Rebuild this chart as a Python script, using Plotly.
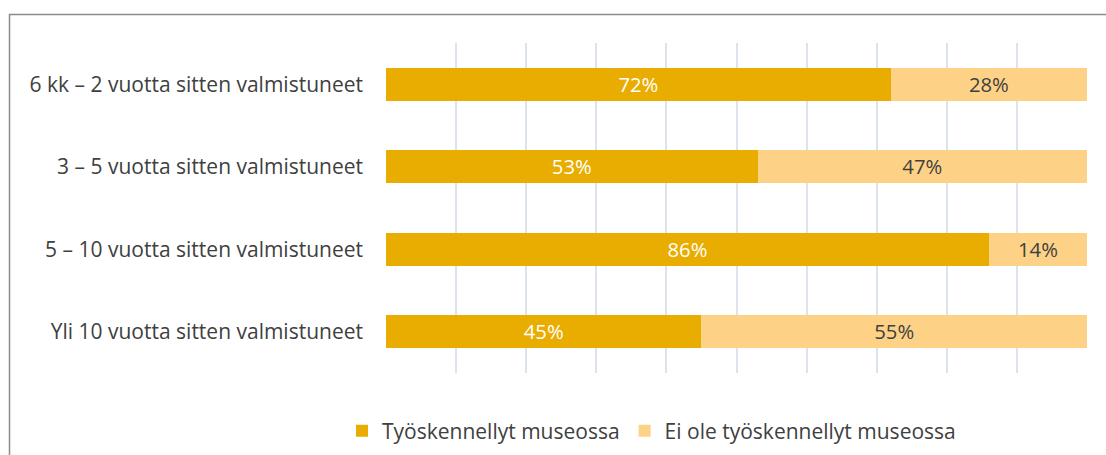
import plotly.graph_objects as go

categories = ["6 kk – 2 vuotta sitten valmistuneet",
              "3 – 5 vuotta sitten valmistuneet",
              "5 – 10 vuotta sitten valmistuneet",
              "Yli 10 vuotta sitten valmistuneet"]
worked = [72, 53, 86, 45]
not_worked = [28, 47, 14, 55]
series_names = ["Työskennellyt museossa", "Ei ole työskennellyt museossa"]

FONT = "Open Sans"
FS = 21
W, H = 1106, 455
L, R, T, B = 386, 19, 43, 82

fig = go.Figure()
fig.add_trace(go.Bar(
    y=categories, x=worked, orientation="h", name=series_names[0],
    marker=dict(color="#E9AC00", line=dict(width=0)),
    text=[f"{v}%" for v in worked], textposition="inside",
    insidetextanchor="middle",
    textfont=dict(color="white", size=FS, family=FONT),
))
fig.add_trace(go.Bar(
    y=categories, x=not_worked, orientation="h", name=series_names[1],
    marker=dict(color="#FDD286", line=dict(width=0)),
    text=[f"{v}%" for v in not_worked], textposition="inside",
    insidetextanchor="middle",
    textfont=dict(color="#404040", size=FS, family=FONT),
))

pw = W - L - R
ph = H - T - B
def px(x):
    return (x - L) / pw
def py(y):
    return (H - B - y) / ph

fig.add_shape(type="rect", xref="paper", yref="paper",
              x0=px(9.5), x1=px(1130), y0=py(480), y1=py(14.5),
              line=dict(color="#8C8C8C", width=1.5), fillcolor="rgba(0,0,0,0)",
              layer="below")

fig.update_layout(
    width=W, height=H,
    margin=dict(l=L, r=R, t=T, b=B, autoexpand=False),
    barmode="stack", bargap=0.6,
    plot_bgcolor="white", paper_bgcolor="white",
    font=dict(family=FONT, size=FS, color="#404040"),
    showlegend=True,
    legend=dict(orientation="h", x=px(342), xanchor="left",
                y=py(431), yanchor="middle", traceorder="normal",
                font=dict(size=FS, color="#404040", family=FONT)),
    xaxis=dict(range=[0, 100], dtick=10, showticklabels=False,
               showgrid=True, gridcolor="#DDE3EB", gridwidth=1.5,
               zeroline=False, showline=False, fixedrange=True),
    yaxis=dict(autorange="reversed", showgrid=False, showline=False,
               ticks="", ticklabelstandoff=22, fixedrange=True,
               tickfont=dict(size=FS, color="#404040", family=FONT)),
)

fig.write_html("out.html", config={"displayModeBar": False},
               post_script="document.body.style.margin='0';")
